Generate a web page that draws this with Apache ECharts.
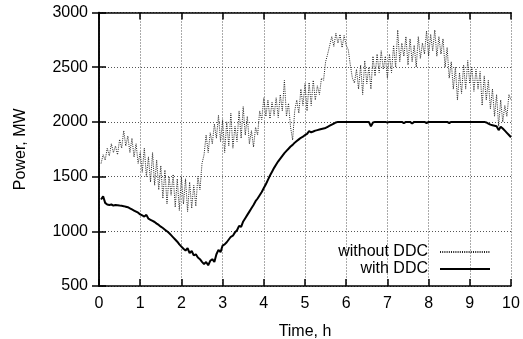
<!DOCTYPE html>
<html>
<head>
<meta charset="utf-8">
<script src="https://cdn.jsdelivr.net/npm/echarts@6/dist/echarts.min.js"></script>
<style>html,body{margin:0;padding:0;background:#fff}#c{width:523px;height:339px}</style>
</head>
<body>
<div id="c"></div>
<script>
const timeH = [
0.05,0.1,0.15,0.2,0.25,0.3,0.35,0.4,0.45,0.5,
0.55,0.6,0.65,0.7,0.75,0.8,0.85,0.9,0.95,1.0,
1.05,1.1,1.15,1.2,1.25,1.3,1.35,1.4,1.45,1.5,
1.55,1.6,1.65,1.7,1.75,1.8,1.85,1.9,1.95,2.0,
2.05,2.1,2.15,2.2,2.25,2.3,2.35,2.4,2.45,2.5,
2.55,2.6,2.65,2.7,2.75,2.8,2.85,2.9,2.95,3.0,
3.05,3.1,3.15,3.2,3.25,3.3,3.35,3.4,3.45,3.5,
3.55,3.6,3.65,3.7,3.75,3.8,3.85,3.9,3.95,4.0,
4.05,4.1,4.15,4.2,4.25,4.3,4.35,4.4,4.45,4.5,
4.55,4.6,4.65,4.7,4.75,4.8,4.85,4.9,4.95,5.0,
5.05,5.1,5.15,5.2,5.25,5.3,5.35,5.4,5.45,5.5,
5.55,5.6,5.65,5.7,5.75,5.8,5.85,5.9,5.95,6.0,
6.05,6.1,6.15,6.2,6.25,6.3,6.35,6.4,6.45,6.5,
6.55,6.6,6.65,6.7,6.75,6.8,6.85,6.9,6.95,7.0,
7.05,7.1,7.15,7.2,7.25,7.3,7.35,7.4,7.45,7.5,
7.55,7.6,7.65,7.7,7.75,7.8,7.85,7.9,7.95,8.0,
8.05,8.1,8.15,8.2,8.25,8.3,8.35,8.4,8.45,8.5,
8.55,8.6,8.65,8.7,8.75,8.8,8.85,8.9,8.95,9.0,
9.05,9.1,9.15,9.2,9.25,9.3,9.35,9.4,9.45,9.5,
9.55,9.6,9.65,9.7,9.75,9.8,9.85,9.9,9.95,10.0
];
const withoutDDC = [
1620,1700,1650,1760,1690,1800,1720,1780,1700,1840,
1760,1920,1780,1870,1720,1850,1680,1800,1620,1720,
1540,1760,1500,1680,1450,1720,1420,1650,1380,1600,
1300,1560,1250,1500,1330,1520,1220,1480,1190,1500,
1250,1480,1180,1450,1210,1420,1230,1500,1380,1620,
1700,1880,1720,1900,1800,1980,1850,2060,1820,2020,
1720,2000,1780,2080,1760,1960,1820,2100,1850,2140,
1880,2050,1800,1920,1770,1950,1880,2100,2020,2220,
2050,2200,2030,2180,2060,2220,2040,2250,2100,2380,
2050,2170,1950,1835,2100,2200,2080,2300,2150,2350,
2100,2360,2150,2380,2200,2330,2250,2400,2380,2550,
2620,2700,2780,2690,2810,2720,2800,2680,2790,2700,
2660,2520,2400,2355,2480,2300,2520,2250,2560,2350,
2500,2300,2600,2420,2620,2450,2650,2480,2600,2400,
2620,2450,2700,2500,2840,2550,2720,2600,2780,2520,
2760,2550,2700,2500,2780,2580,2720,2620,2830,2600,
2800,2650,2840,2600,2780,2620,2760,2500,2680,2400,
2550,2300,2500,2200,2450,2260,2520,2300,2560,2350,
2500,2280,2480,2300,2460,2150,2420,2200,2380,2120,
2300,2050,2250,1960,2200,2000,2150,2050,2250,2200
];
const withDDC = [
1290,1320,1260,1245,1240,1245,1235,1240,1238,1235,
1233,1230,1225,1220,1210,1200,1190,1180,1170,1155,
1145,1135,1150,1115,1105,1095,1085,1070,1058,1042,
1030,1015,1000,985,965,945,925,905,880,860,
840,825,845,800,820,780,790,760,745,720,
700,720,690,730,745,720,790,830,810,870,
880,900,925,950,960,990,1010,1050,1040,1090,
1120,1150,1180,1210,1240,1275,1300,1330,1360,1395,
1430,1470,1510,1545,1580,1610,1640,1665,1690,1715,
1735,1755,1775,1790,1810,1825,1840,1855,1865,1880,
1890,1915,1905,1912,1920,1925,1930,1935,1940,1945,
1955,1965,1975,1985,1995,2000,2000,2000,2000,2000,
2000,2000,2000,2000,2000,2000,2000,2000,2000,2000,
2000,1960,1995,2000,2000,2000,2000,2000,2000,1995,
2000,2000,2000,2000,2000,2000,2000,1988,2000,2000,
2000,1985,2000,2000,2000,2000,2000,2000,1990,2000,
2000,2000,2000,2000,2000,2000,2000,2000,2000,1990,
2000,2000,2000,2000,2000,2000,2000,2000,2000,2000,
2000,2000,2000,2000,2000,2000,2000,1995,1985,1975,
1970,1965,1960,1925,1955,1940,1920,1900,1880,1860
];
const xTicks = {min: 0, max: 10, interval: 1};
const yTicks = {min: 500, max: 3000, interval: 500};

const font = 'Liberation Sans, Arial, sans-serif';
const chart = echarts.init(document.getElementById('c'), null, {renderer: 'canvas'});
const pairs = (ys) => timeH.map((t, i) => [t, ys[i]]);
const plain = (v) => String(v);
const baseAxis = {
  axisLine: {show: true, lineStyle: {color: '#000', width: 1.5}},
  axisTick: {show: true, inside: true, length: 7, lineStyle: {color: '#000', width: 1.5}},
};
chart.setOption({
  animation: false,
  backgroundColor: '#fff',
  grid: {left: 99, right: 12, top: 12.5, bottom: 53, containLabel: false, outerBoundsMode: 'none'},
  xAxis: [
    Object.assign({}, baseAxis, {
      type: 'value', min: xTicks.min, max: xTicks.max, interval: xTicks.interval, position: 'bottom',
      name: 'Time, h', nameLocation: 'middle', nameGap: 38,
      nameTextStyle: {fontFamily: font, fontSize: 16, color: '#000'},
      axisLabel: {fontFamily: font, fontSize: 16, color: '#000', margin: 10, formatter: plain},
      splitLine: {show: true, lineStyle: {color: '#555', width: 1, type: [1, 2]}}
    }),
    Object.assign({}, baseAxis, {
      type: 'value', min: xTicks.min, max: xTicks.max, interval: xTicks.interval, position: 'top',
      axisLabel: {show: false}, splitLine: {show: false}
    })
  ],
  yAxis: [
    Object.assign({}, baseAxis, {
      type: 'value', min: yTicks.min, max: yTicks.max, interval: yTicks.interval, position: 'left',
      name: 'Power, MW', nameLocation: 'middle', nameGap: 70,
      nameTextStyle: {fontFamily: font, fontSize: 16, color: '#000'},
      axisLabel: {fontFamily: font, fontSize: 16, color: '#000', margin: 11, formatter: plain},
      splitLine: {show: true, lineStyle: {color: '#555', width: 1, type: [1, 2]}}
    }),
    Object.assign({}, baseAxis, {
      type: 'value', min: yTicks.min, max: yTicks.max, interval: yTicks.interval, position: 'right',
      axisLabel: {show: false}, splitLine: {show: false}
    })
  ],
  legend: {
    data: ['without DDC', 'with DDC'], orient: 'vertical', align: 'right',
    right: 32, top: 244, padding: 0, itemGap: 1,
    itemWidth: 50, itemHeight: 18,
    itemStyle: {opacity: 0},
    textStyle: {fontFamily: font, fontSize: 16, color: '#000', width: 110, align: 'right', padding: [0, 7, 0, 0]}
  },
  series: [
    {name: 'without DDC', type: 'line', data: pairs(withoutDDC), showSymbol: false, symbol: 'none',
     lineStyle: {color: '#222', width: 1, type: [1, 1.2]}, itemStyle: {color: '#222'}},
    {name: 'with DDC', type: 'line', data: pairs(withDDC), showSymbol: false, symbol: 'none',
     lineStyle: {color: '#000', width: 2}, itemStyle: {color: '#000'}}
  ]
});
</script>
</body>
</html>
